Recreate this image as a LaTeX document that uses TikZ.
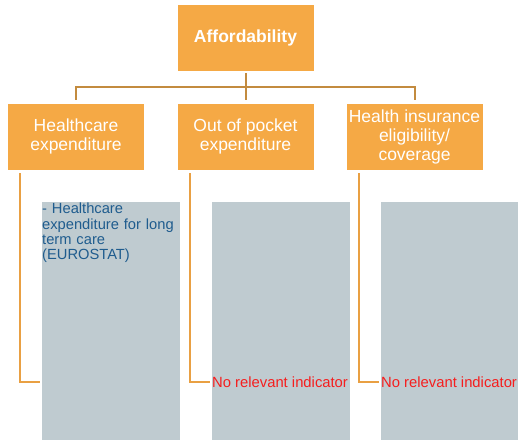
\documentclass[tikz,border=0pt]{standalone}
\usepackage{fontspec}
\setmainfont{Liberation Sans}
\definecolor{boxorange}{HTML}{F5A945}
\definecolor{treeline}{HTML}{C38B3F}
\definecolor{sideline}{HTML}{E9A043}
\definecolor{panelgrey}{HTML}{BFCBD0}
\definecolor{textblue}{HTML}{1F5C8E}
\definecolor{nored}{HTML}{F51E1E}
\begin{document}
\begin{tikzpicture}[x=1pt,y=-1pt,
  catbox/.style={fill=boxorange,draw=white,line width=0.6pt,minimum width=137pt,minimum height=67pt,inner sep=0pt,align=center,text=white,font=\fontsize{17.5}{19}\selectfont},
  panel/.style={fill=panelgrey,draw=none},
  tree/.style={draw=treeline,line width=2pt},
  side/.style={draw=sideline,line width=2pt},
  noind/.style={text=nored,anchor=west,inner xsep=2pt,inner ysep=0pt,font=\fontsize{14.8}{15.3}\selectfont}]
\useasboundingbox (0,0) rectangle (518,440);
% grey panels
\fill[panel] (42,202) rectangle (180,440);
\fill[panel] (212,202) rectangle (349.5,440);
\fill[panel] (381,202) rectangle (518,440);
% boxes
\node[catbox,font=\fontsize{17.5}{19}\selectfont\bfseries] (top) at (245.5,37.5) {Affordability};
\node[catbox] (hc) at (76,136.5) {Healthcare\\expenditure};
\node[catbox] (oop) at (245.5,136.5) {Out of pocket\\expenditure};
\node[catbox] (hi) at (414.5,136.5) {Health insurance\\eligibility/\\coverage};
% tree connectors
\coordinate (j) at (245.5,87);
\draw[tree] ([yshift=-2pt]top.south) -- (j);
\draw[tree] ([yshift=3pt]hc.north) |- (j) -| ([yshift=3pt]hi.north);
\draw[tree] (j) -- ([yshift=3pt]oop.north);
% panel texts
\node[anchor=north west,inner xsep=0pt,inner ysep=1pt,text width=140pt,align=left,text=textblue,font=\fontsize{14.7}{15.3}\selectfont] (t1) at (42,202) {- Healthcare\\expenditure for long\\term care\\(EUROSTAT)};
\coordinate (c1) at (40,382);
\node[noind] (t2) at (210,382) {No relevant indicator};
\node[noind] (t3) at (379,382) {No relevant indicator};
% side connectors
\draw[side] ([xshift=13pt,yshift=-3pt]hc.south west) |- (c1);
\draw[side] ([xshift=13pt,yshift=-3pt]oop.south west) |- (t2.west);
\draw[side] ([xshift=13pt,yshift=-3pt]hi.south west) |- (t3.west);
\end{tikzpicture}
\end{document}
